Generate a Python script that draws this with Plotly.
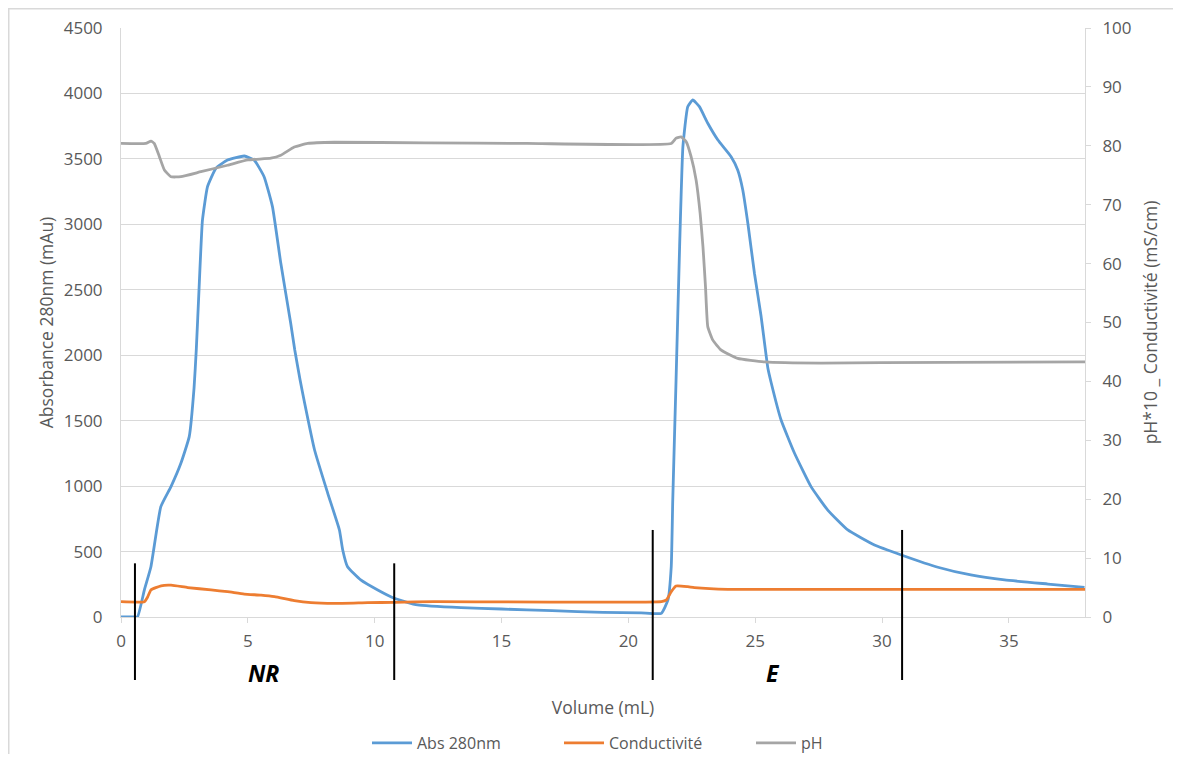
import plotly.graph_objects as go

# ---- data ----
vol_abs = [0, 0.5, 0.65, 0.92, 1.18, 1.57, 1.97, 2.36, 2.69, 2.88, 2.97, 3.08, 3.21, 3.41, 3.74,
           4.2, 4.86, 5.25, 5.64, 5.97, 6.3, 6.69, 6.85, 7.06, 7.24, 7.63, 8.15, 8.61, 8.74, 8.93,
           9.45, 10.12, 10.77, 11.69, 13.4, 15, 17, 19, 20.5, 21.3, 21.56, 21.69, 21.75, 21.88,
           22.02, 22.15, 22.34, 22.54, 22.8, 23.13, 23.53, 24.05, 24.31, 24.51, 24.71, 24.97,
           25.23, 25.5, 25.63, 26.02, 26.55, 27.2, 27.86, 28.65, 29.7, 30.76, 32.2, 33.5, 34.83,
           36.54, 37.98]
abs280 = [0, 0, 0, 206, 384, 843, 996, 1174, 1378, 1750, 2050, 2520, 3030, 3288, 3428,
          3491, 3522, 3491, 3364, 3135, 2702, 2244, 2040, 1811, 1633, 1276, 945, 665, 512, 384,
          283, 206, 143, 92, 71, 61, 48, 36, 32, 28, 130, 384, 894, 1811,
          2829, 3593, 3899, 3950, 3899, 3772, 3644, 3517, 3415, 3262, 3008, 2626,
          2300, 1900, 1790, 1505, 1251, 996, 817, 665, 550, 474, 380, 321, 283,
          252, 227]

vol_cond = [0, 0.92, 1.05, 1.18, 1.58, 1.97, 2.63, 3.55, 4.2, 4.86, 5.52, 6.05, 6.83, 7.49,
            8.41, 9.72, 10.77, 12.35, 21.3, 21.5, 21.69, 21.88, 22.34, 22.6, 23.92, 38]
conductivite = [2.6, 2.6, 3.4, 4.6, 5.3, 5.4, 5.0, 4.6, 4.3, 3.9, 3.7, 3.45, 2.77, 2.43,
                2.3, 2.43, 2.5, 2.6, 2.6, 2.9, 4.3, 5.26, 5.15, 5.0, 4.7, 4.7]

vol_ph = [0, 0.98, 1.18, 1.31, 1.51, 1.71, 1.97, 2.36, 3.15, 4.2, 5.0, 5.91, 6.3, 6.83, 7.36,
          8.41, 12, 16, 21.69, 21.88, 22.08, 22.28, 22.47, 22.67, 22.83, 22.94, 23.04, 23.13,
          23.33, 23.66, 24.31, 25.37, 27.6, 29.97, 38]
ph10 = [80.4, 80.4, 80.8, 80.4, 78.2, 75.9, 74.75, 74.75, 75.6, 76.7, 77.6, 77.9, 78.4, 79.8, 80.4,
        80.6, 80.5, 80.4, 80.4, 81.3, 81.5, 80.7, 78.2, 74.2, 68.5, 62.9, 56.1, 49.3,
        47.0, 45.3, 43.9, 43.3, 43.1, 43.2, 43.3]

# fraction markers (volume, top value on absorbance axis)
marker_vol = [0.55, 10.77, 20.96, 30.79]
marker_top = [410, 410, 665, 665]
fraction_labels = ["NR", "E"]
fraction_label_vol = [5.63, 25.7]

X_MAX = 38
Y_MAX = 4500
Y2_MAX = 100

BLUE = "#5B9BD5"
ORANGE = "#ED7D31"
GRAY = "#A5A5A5"
TXT = "#595959"
GRID = "#D9D9D9"
FONT = "Open Sans"

fig = go.Figure()
fig.add_trace(go.Scatter(x=vol_abs, y=abs280, name="Abs 280nm", mode="lines",
                         line=dict(color=BLUE, width=2.8, shape="spline", smoothing=0.4)))
fig.add_trace(go.Scatter(x=vol_cond, y=conductivite, name="Conductivité", mode="lines",
                         yaxis="y2",
                         line=dict(color=ORANGE, width=2.8, shape="spline", smoothing=0.4)))
fig.add_trace(go.Scatter(x=vol_ph, y=ph10, name="pH", mode="lines", yaxis="y2",
                         line=dict(color=GRAY, width=2.8, shape="spline", smoothing=0.4)))

# page has an 8px body margin: figure pixel = screen pixel - 8
OFF = 8
W, H = 1181 - 2 * OFF, 762 - 2 * OFF
PL, PR, PT, PB = 121 - OFF, 1085 - OFF, 28 - OFF, 617 - OFF
PW, PH = PR - PL, PB - PT

def sy(py):  # screen y pixel -> paper y
    return (PB - (py - OFF)) / PH

def sx(px):  # screen x pixel -> paper x
    return ((px - OFF) - PL) / PW

shapes = []
for v, top in zip(marker_vol, marker_top):
    xp = v / X_MAX
    shapes.append(dict(type="line", xref="paper", yref="paper",
                       x0=xp, x1=xp, y0=top / Y_MAX, y1=sy(680),
                       line=dict(color="black", width=2)))
# outer chart border (top and left visible)
shapes.append(dict(type="line", xref="paper", yref="paper",
                   x0=sx(OFF), x1=sx(1181), y0=sy(OFF + 0.75), y1=sy(OFF + 0.75),
                   line=dict(color=GRID, width=1.5)))
shapes.append(dict(type="line", xref="paper", yref="paper",
                   x0=sx(OFF + 0.75), x1=sx(OFF + 0.75), y0=sy(OFF), y1=sy(762),
                   line=dict(color=GRID, width=1.5)))

annotations = []
for lab, v in zip(fraction_labels, fraction_label_vol):
    annotations.append(dict(text="<b><i>%s</i></b>" % lab, x=v / X_MAX, xref="paper",
                            y=sy(673), yref="paper", showarrow=False,
                            font=dict(family=FONT, size=23, color="black"),
                            xanchor="center", yanchor="middle"))

fig.update_layout(
    width=W, height=H,
    margin=dict(l=PL, r=W - PR, t=PT, b=H - PB, autoexpand=False),
    paper_bgcolor="white", plot_bgcolor="white",
    font=dict(family=FONT, size=17, color=TXT),
    showlegend=True,
    legend=dict(orientation="h",
                xref="container", x=(373 - 6 - OFF) / W, xanchor="left",
                yref="container", y=1 - (743 - OFF) / H, yanchor="middle",
                font=dict(family=FONT, size=16, color=TXT),
                entrywidth=137, itemwidth=40, tracegroupgap=0),
    xaxis=dict(range=[0, X_MAX], tickvals=[0, 5, 10, 15, 20, 25, 30, 35], automargin=False,
               showgrid=False, zeroline=False, showline=True, linecolor=GRID, linewidth=1,
               ticks="outside", ticklen=5, tickcolor=GRID, ticklabelstandoff=4,
               tickfont=dict(family=FONT, size=17, color=TXT),
               title=dict(text="Volume (mL)", standoff=50,
                          font=dict(family=FONT, size=17.5, color=TXT))),
    yaxis=dict(range=[0, Y_MAX], dtick=500, showgrid=True, gridcolor=GRID, gridwidth=1,
               zeroline=False, showline=True, linecolor=GRID, linewidth=1, automargin=False,
               ticks="", ticklabelstandoff=14,
               tickfont=dict(family=FONT, size=17, color=TXT),
               title=dict(text="Absorbance 280nm (mAu)", standoff=5,
                          font=dict(family=FONT, size=17.5, color=TXT))),
    yaxis2=dict(range=[0, Y2_MAX], dtick=10, overlaying="y", side="right", automargin=False,
                showgrid=False, zeroline=False, showline=True, linecolor=GRID, linewidth=1,
                ticks="outside", ticklen=5, tickcolor=GRID, ticklabelstandoff=8,
                tickfont=dict(family=FONT, size=17, color=TXT),
                title=dict(text="pH*10 _ Conductivité (mS/cm)", standoff=14,
                           font=dict(family=FONT, size=17.5, color=TXT))),
    shapes=shapes,
    annotations=annotations,
)

fig.write_html("out.html")
